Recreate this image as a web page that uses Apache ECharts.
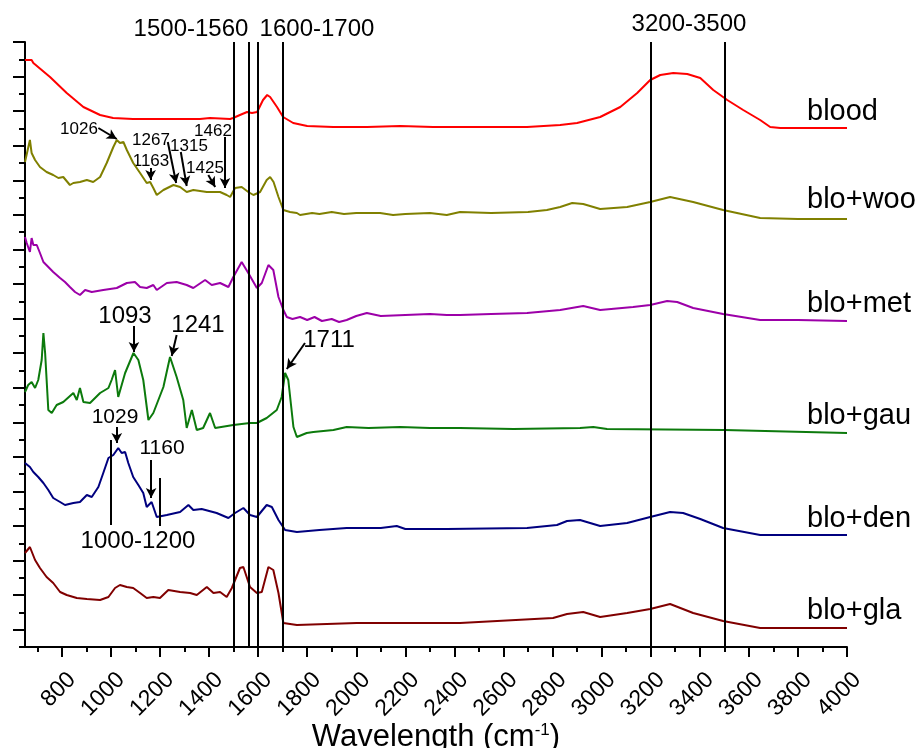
<!DOCTYPE html>
<html>
<head>
<meta charset="utf-8">
<script src="https://cdn.jsdelivr.net/npm/echarts@6/dist/echarts.min.js"></script>
<style>
  html, body { margin: 0; padding: 0; background: #fff; }
  #chart { width: 924px; height: 748px; }
</style>
</head>
<body>
<div id="chart"></div>
<script>
// FTIR spectra, stacked with an offset (y has no units, only ticks)
const FONT = '"Liberation Sans", Arial, sans-serif';

const X_MAJOR = [800, 1000, 1200, 1400, 1600, 1800, 2000, 2200, 2400, 2600, 2800, 3000, 3200, 3400, 3600, 3800, 4000];
const X_MINOR = [700, 900, 1100, 1300, 1500, 1700, 1900, 2100, 2300, 2500, 2700, 2900, 3100, 3300, 3500, 3700, 3900];

const NAMES = ['blood', 'blo+woo', 'blo+met', 'blo+gau', 'blo+den', 'blo+gla'];
const COLORS = ['#ff0000', '#808000', '#9c00a8', '#0c7a0c', '#00007f', '#800000'];

const blood = [[650,587],[677,587],[684,584],[752,570],[820,554],[888,540],[956,532],[1009,529],[1090,528],[1229,528],[1363,528],[1404,529],[1486,528],[1498,529],[1526,532],[1555,535],[1575,534],[1596,535],[1620,547],[1637,552],[1649,550],[1677,540],[1702,530],[1743,524],[1800,521],[1906,520],[2044,520],[2179,521],[2313,520],[2423,520],[2696,520],[2831,522],[2900,524],[2994,530],[3076,540],[3145,554],[3198,567],[3239,572],[3292,574],[3349,573],[3402,569],[3455,557],[3512,547],[3577,537],[3646,527],[3687,520],[3728,519],[4000,519]];

const bloWoo = [[650,485],[670,507],[677,494],[691,487],[711,480],[738,475],[765,472],[786,469],[806,470],[833,462],[847,464],[874,465],[902,467],[928,465],[956,470],[983,484],[1010,500],[1024,507],[1037,504],[1051,505],[1065,497],[1091,484],[1119,474],[1146,464],[1160,465],[1173,459],[1187,452],[1214,457],[1255,462],[1282,460],[1309,455],[1336,457],[1391,455],[1445,455],[1472,452],[1486,450],[1506,459],[1533,460],[1560,455],[1581,452],[1608,455],[1635,467],[1649,470],[1663,465],[1683,450],[1703,437],[1730,435],[1758,434],[1771,432],[1820,434],[1850,433],[1900,435],[1950,433],[2000,434],[2097,434],[2150,432],[2200,433],[2300,434],[2369,432],[2423,435],[2550,434],[2700,435],[2777,437],[2831,440],[2880,444],[2925,443],[2994,438],[3104,440],[3198,445],[3279,450],[3373,445],[3495,437],[3646,429],[3800,428],[4000,428]];

const bloMet = [[650,410],[657,404],[670,395],[677,409],[684,402],[698,402],[711,394],[725,385],[745,380],[765,375],[793,369],[813,365],[833,360],[854,355],[874,352],[895,357],[922,355],[969,357],[1024,359],[1065,364],[1098,365],[1119,360],[1146,359],[1173,362],[1187,357],[1228,364],[1268,365],[1309,362],[1336,359],[1384,367],[1411,362],[1445,364],[1479,360],[1499,370],[1533,385],[1560,374],[1595,359],[1615,364],[1642,382],[1662,377],[1683,350],[1703,337],[1717,330],[1740,328],[1771,330],[1800,327],[1830,330],[1860,326],[1900,328],[1930,325],[1961,327],[2000,331],[2043,334],[2100,331],[2200,332],[2300,333],[2369,332],[2423,332],[2550,333],[2696,334],[2831,337],[2925,341],[2994,337],[3128,340],[3198,342],[3267,346],[3308,345],[3373,339],[3495,333],[3646,327],[3800,327],[4000,326]];

const bloGau = [[650,255],[663,262],[677,265],[691,259],[704,267],[718,287],[725,314],[732,294],[745,237],[759,234],[779,242],[806,245],[847,254],[861,247],[874,259],[888,245],[915,244],[956,254],[990,259],[1003,267],[1017,277],[1030,250],[1058,274],[1092,294],[1112,287],[1132,267],[1153,227],[1173,234],[1214,260],[1241,290],[1268,270],[1295,247],[1309,219],[1330,237],[1350,217],[1376,219],[1404,234],[1425,219],[1499,222],[1567,224],[1595,224],[1635,229],[1676,237],[1696,250],[1710,274],[1723,267],[1744,220],[1758,210],[1798,214],[1825,215],[1907,217],[1961,220],[2050,219],[2179,220],[2300,219],[2423,219],[2641,218],[2912,219],[2966,220],[3022,218],[3500,217],[4000,214]];

const bloDen = [[650,184],[670,180],[684,175],[704,170],[725,164],[745,157],[765,149],[793,145],[813,142],[847,144],[874,145],[902,152],[922,150],[949,160],[969,174],[990,189],[1010,192],[1030,199],[1044,194],[1058,195],[1071,184],[1091,170],[1112,162],[1132,154],[1146,140],[1166,145],[1187,130],[1228,132],[1282,135],[1316,142],[1336,137],[1370,138],[1431,134],[1479,129],[1506,134],[1540,139],[1567,132],[1595,130],[1635,142],[1656,140],[1683,127],[1710,117],[1758,115],[1850,117],[1961,119],[2100,119],[2165,121],[2200,118],[2369,118],[2696,119],[2818,122],[2859,126],[2912,127],[2994,121],[3104,124],[3198,130],[3279,135],[3332,134],[3402,128],[3495,119],[3646,112],[4000,112]];

const bloGla = [[650,94],[670,100],[691,87],[711,79],[738,70],[765,64],[793,55],[820,52],[861,49],[902,48],[956,47],[990,50],[1017,59],[1037,62],[1065,60],[1091,59],[1119,54],[1146,49],[1173,50],[1200,49],[1234,57],[1282,55],[1323,54],[1350,52],[1391,60],[1418,54],[1445,55],[1472,50],[1493,59],[1526,79],[1540,80],[1567,60],[1595,54],[1615,55],[1642,80],[1662,77],[1683,54],[1703,24],[1758,22],[2002,24],[2423,24],[2802,29],[2859,33],[2925,35],[2994,30],[3104,34],[3198,38],[3279,43],[3373,34],[3495,26],[3646,19],[4000,19]];

const SPECTRA = [blood, bloWoo, bloMet, bloGau, bloDen, bloGla];

// band limits drawn across the whole plot
const BANDS = [1500, 1560, 1600, 1700, 3200, 3500];
// short marks for the 1000-1200 region: [wavenumber, from, to]
const SHORT_MARKS = [[1000, 207, 122], [1200, 169, 121]];
// arrows: [x0, y0, x1, y1] in data units (arrow head at the second point)
const ARROWS = [
  [949, 519, 1024, 508],
  [1162, 479, 1162, 467],
  [1232, 505, 1266, 464],
  [1285, 495, 1309, 461],
  [1397, 472, 1425, 460],
  [1465, 510, 1465, 459],
  [1094, 321, 1094, 295],
  [1268, 312, 1248, 291],
  [1791, 304, 1717, 278],
  [1024, 220, 1024, 204],
  [1164, 187, 1164, 149],
];

const Y_MAX = 605;
const Y_STEP = Y_MAX / 35;
const Y_MAJOR = [];
const Y_MINOR = [];
for (let k = 0; k <= 35; k++) (k % 2 === 0 ? Y_MAJOR : Y_MINOR).push(Y_MAX - k * Y_STEP);

// text labels: [text, x, y, size]
const LABELS = [
  ['1500-1560', 191, 29, 24],
  ['1600-1700', 317, 29, 24],
  ['3200-3500', 689, 24, 24],
  ['1026', 79, 129, 17],
  ['1267', 151, 140, 17],
  ['1315', 189, 146, 17],
  ['1163', 151, 161, 17],
  ['1425', 205, 168, 17],
  ['1462', 213, 131, 17],
  ['1093', 125, 316, 24],
  ['1241', 198, 325, 24],
  ['1711', 329, 340, 24],
  ['1029', 115, 417, 21],
  ['1160', 162, 448, 21],
  ['1000-1200', 138, 541, 24],
];
const NAME_Y = [112, 200, 304, 416, 519, 611];

const chart = echarts.init(document.getElementById('chart'));

const graphic = LABELS.map(([t, x, y, s]) => ({
  type: 'text', x, y,
  style: { text: t, font: s + 'px ' + FONT, fill: '#000', align: 'center', verticalAlign: 'middle' },
})).concat(NAMES.map((n, i) => ({
  type: 'text', x: 807, y: NAME_Y[i],
  style: { text: n, font: '29px ' + FONT, fill: '#000', align: 'left', verticalAlign: 'middle' },
})));

const markData = BANDS.map((b) => ({ xAxis: b }))
  .concat(SHORT_MARKS.map(([x, a, b]) => [{ coord: [x, a] }, { coord: [x, b] }]))
  .concat(ARROWS.map(([x0, y0, x1, y1]) => [
    { coord: [x0, y0], symbol: 'none' },
    { coord: [x1, y1], symbol: 'arrow', symbolSize: [8, 10] },
  ]));

const series = SPECTRA.map((d, i) => ({
  name: NAMES[i],
  type: 'line',
  data: d,
  showSymbol: false,
  symbol: 'none',
  lineStyle: { color: COLORS[i], width: 2 },
  itemStyle: { color: COLORS[i] },
  z: 3,
}));
series.push({
  name: 'marks',
  type: 'line',
  data: [],
  z: 4,
  markLine: {
    silent: true,
    animation: false,
    symbol: 'none',
    label: { show: false },
    lineStyle: { color: '#000', width: 2, type: 'solid' },
    emphasis: { disabled: true },
    data: markData,
  },
});

const blackLine = { color: '#000', width: 2 };

chart.setOption({
  animation: false,
  // keep the plot box fixed even if the axis title runs off the bottom
  grid: { left: 25, right: 77, top: 42, bottom: 101, outerBoundsMode: 'none', containLabel: false },
  xAxis: [
    {
      type: 'value', min: 650, max: 4000, position: 'bottom',
      axisLine: { show: true, onZero: false, lineStyle: blackLine },
      axisTick: { show: true, customValues: X_MAJOR, length: 10, lineStyle: blackLine },
      axisLabel: {
        customValues: X_MAJOR, rotate: 45, fontSize: 23, color: '#000', fontFamily: FONT,
        margin: 19, verticalAlign: 'top', padding: [3, 0, 0, 0],
        formatter: (v) => String(v),
      },
      splitLine: { show: false },
      name: 'Wavelength (cm{sup|-1})',
      nameLocation: 'middle',
      nameGap: 75,
      nameMoveOverlap: false,
      nameTextStyle: {
        fontSize: 31, color: '#000', fontFamily: FONT,
        rich: { sup: { fontSize: 17, color: '#000', fontFamily: FONT, verticalAlign: 'top' } },
      },
    },
    {
      type: 'value', min: 650, max: 4000, position: 'bottom',
      axisLine: { show: false },
      axisTick: { show: true, customValues: X_MINOR, length: 5, lineStyle: blackLine },
      axisLabel: { show: false },
      splitLine: { show: false },
    },
  ],
  yAxis: [
    {
      type: 'value', min: 0, max: Y_MAX, position: 'left',
      axisLine: { show: true, onZero: false, lineStyle: blackLine },
      axisTick: { show: true, customValues: Y_MAJOR, length: 12, lineStyle: blackLine },
      axisLabel: { show: false },
      splitLine: { show: false },
    },
    {
      type: 'value', min: 0, max: Y_MAX, position: 'left',
      axisLine: { show: false },
      axisTick: { show: true, customValues: Y_MINOR, length: 6, lineStyle: blackLine },
      axisLabel: { show: false },
      splitLine: { show: false },
    },
  ],
  series,
  graphic,
});
</script>
</body>
</html>
